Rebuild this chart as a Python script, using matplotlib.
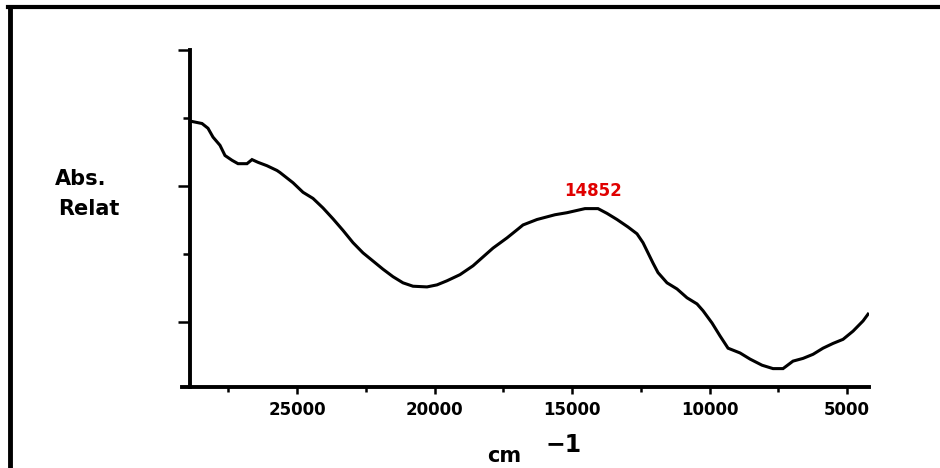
import matplotlib

matplotlib.use("Agg")
import matplotlib.pyplot as plt
import numpy as np
from matplotlib.lines import Line2D

# spectrum (wavenumber in cm-1, relative absorbance)
wavenumber = [
    28818, 28454, 28236, 28054, 27800, 27618, 27363, 27145, 26818, 26636,
    26418, 26091, 25727, 25618, 25145, 24782, 24418, 24055, 23691, 23327,
    22964, 22600, 22236, 21873, 21509, 21146, 20782, 20273, 19909, 19546,
    19073, 18600, 18237, 17873, 17364, 16964, 16782, 16273, 15619, 15182,
    14528, 14055, 13728, 13364, 12964, 12637, 12419, 12237, 12055, 11873,
    11546, 11182, 10818, 10454, 10236, 9909, 9618, 9327, 8891, 8527,
    8091, 7691, 7327, 6964, 6600, 6236, 5873, 5509, 5145, 4782,
    4418, 4236,
]
absorbance = [
    0.395, 0.392, 0.385, 0.372, 0.360, 0.345, 0.338, 0.333, 0.333, 0.339,
    0.335, 0.330, 0.323, 0.320, 0.305, 0.291, 0.282, 0.268, 0.252, 0.235,
    0.217, 0.202, 0.190, 0.178, 0.167, 0.158, 0.153, 0.152, 0.155, 0.161,
    0.170, 0.183, 0.196, 0.209, 0.224, 0.237, 0.243, 0.251, 0.258, 0.261,
    0.267, 0.267, 0.260, 0.251, 0.240, 0.230, 0.217, 0.202, 0.187, 0.173,
    0.158, 0.149, 0.136, 0.127, 0.117, 0.099, 0.080, 0.062, 0.055, 0.046,
    0.037, 0.032, 0.032, 0.043, 0.047, 0.053, 0.062, 0.069, 0.075, 0.087,
    0.102, 0.112,
]

x_major = [25000, 20000, 15000, 10000, 5000]
x_minor = [27500, 22500, 17500, 12500, 7500]
y_major = [0.1, 0.3, 0.5]
y_minor = [0.2, 0.4]
peak_label = "14852"

plt.rcParams["font.family"] = "DejaVu Sans"

fig = plt.figure(figsize=(9.4, 4.68), dpi=100)
fig.patch.set_facecolor("white")
ax = fig.add_axes([0.1936, 0.1731, 0.7309, 0.7201])

ax.plot(wavenumber, absorbance, color="black", lw=2.2, solid_joinstyle="miter")

ax.set_xlim(29182, 4200)
ax.set_ylim(0.005, 0.5)

for side in ("top", "right"):
    ax.spines[side].set_visible(False)
for side in ("left", "bottom"):
    ax.spines[side].set_linewidth(2.8)
ax.spines["left"].set_position(("data", 28891))

ax.set_xticks(x_major)
ax.set_xticks(x_minor, minor=True)
ax.set_yticks(y_major)
ax.set_yticks(y_minor, minor=True)
ax.tick_params(axis="x", which="major", direction="out", length=5, width=1.8, pad=5,
               labelsize=12)
ax.tick_params(axis="x", which="minor", direction="out", length=3.6, width=1.8)
ax.tick_params(axis="y", which="major", direction="out", length=8.6, width=1.8,
               labelleft=False)
ax.tick_params(axis="y", which="minor", direction="out", length=5, width=1.8)
for lbl in ax.get_xticklabels():
    lbl.set_fontweight("bold")

# annotate the visible band maximum (between 10000 and 20000 cm-1)
wn = np.asarray(wavenumber)
ab = np.asarray(absorbance)
band = (wn < 20000) & (wn > 10000)
i_peak = np.flatnonzero(band)[np.argmax(ab[band])]
ax.annotate(peak_label, xy=(wn[i_peak], ab[i_peak]),
            xytext=(6, 6), textcoords="offset points", ha="center", va="bottom",
            color="#e00000", fontsize=12, fontweight="bold")

# axis titles
fig.text(55 / 940, 1 - 185 / 468, "Abs.", fontsize=15, fontweight="bold",
         ha="left", va="baseline")
fig.text(58 / 940, 1 - 215 / 468, "Relat", fontsize=15, fontweight="bold",
         ha="left", va="baseline")
fig.text(487 / 940, 1 - 462 / 468, "cm", fontsize=15, fontweight="bold",
         ha="left", va="baseline")
fig.text(545 / 940, 1 - 452 / 468, "\u22121", fontsize=17, fontweight="bold",
         ha="left", va="baseline")

# outer frame (top and left edges only, the rest is cut off)
fig.add_artist(Line2D([8 / 940, 1.0], [1 - 7 / 468, 1 - 7 / 468],
                      transform=fig.transFigure, color="black", lw=3))
fig.add_artist(Line2D([10 / 940, 10 / 940], [1 - 7 / 468, 0.0],
                      transform=fig.transFigure, color="black", lw=3.5))

fig.savefig("out.png", dpi=100, facecolor=fig.get_facecolor())
plt.close(fig)
